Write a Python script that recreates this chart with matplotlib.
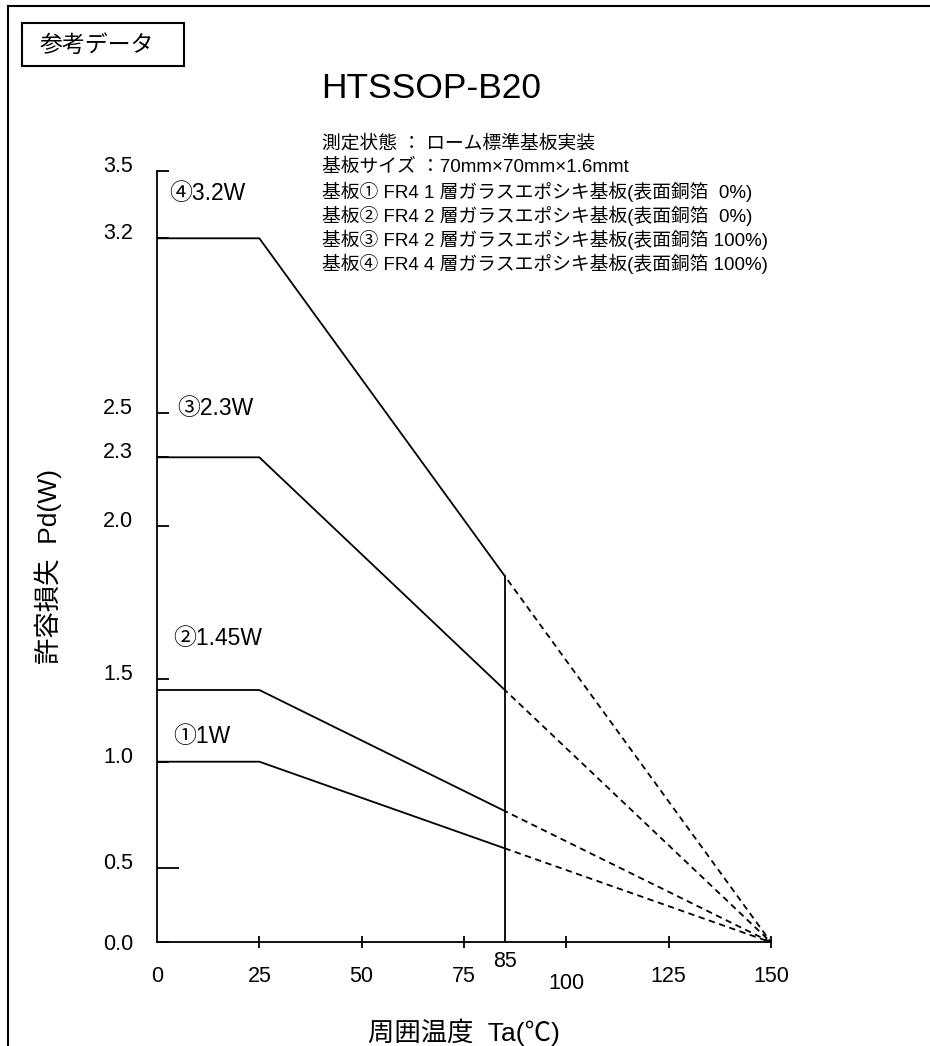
import numpy as np
import matplotlib
matplotlib.use("Agg")
import matplotlib.pyplot as plt
from matplotlib.patches import Rectangle
from matplotlib.transforms import ScaledTranslation

plt.rcParams['font.family'] = ['Liberation Sans', 'Noto Sans CJK JP', 'DejaVu Sans']

# データ (ディレーティング曲線)
BOARD_MARKS = ['①', '②', '③', '④']
PD_MAX = [1.0, 1.45, 2.3, 3.2]          # W
T_KNEE = 25                              # ℃
T_MAX = 150                              # ℃
T_A = 85                                 # ℃
X_TICKS = [0, 25, 50, 75, 100, 125, 150]
Y_TICKS = [0.0, 0.5, 1.0, 1.5, 2.0, 2.3, 2.5, 3.2, 3.5]
CONDITIONS = [
    '測定状態 ： ローム標準基板実装',
    '基板サイズ ：70mm×70mm×1.6mmt',
    '基板① FR4 1 層ガラスエポシキ基板(表面銅箔  0%)',
    '基板② FR4 2 層ガラスエポシキ基板(表面銅箔  0%)',
    '基板③ FR4 2 層ガラスエポシキ基板(表面銅箔 100%)',
    '基板④ FR4 4 層ガラスエポシキ基板(表面銅箔 100%)',
]

# 元の図の縦軸は等間隔ではないので、区分線形のスケールで再現する
SCALE_W = [-10, 0.0, 0.5, 1.0, 1.45, 1.5, 2.0, 2.3, 2.5, 3.2, 3.5, 10]
SCALE_PX = [-2200, 0.0, 74.3, 180.6, 252.3, 263.3, 416.6, 485.0, 529.0, 704.0, 771.6, 2201.6]


def fwd(v):
    return np.interp(v, SCALE_W, SCALE_PX)


def inv(p):
    return np.interp(p, SCALE_PX, SCALE_W)


W, H = 930, 1046
fig = plt.figure(figsize=(W / 100, H / 100), dpi=100)
ax = fig.add_axes([157 / W, 1 - 942.3 / H, 614 / W, 771.6 / H])
ax.set_yscale('function', functions=(fwd, inv))
ax.set_xlim(0, T_MAX)
ax.set_ylim(0, 3.5)

for s in ['top', 'right']:
    ax.spines[s].set_visible(False)
for s in ['left', 'bottom']:
    ax.spines[s].set_linewidth(1.3)

lw = 1.3
solid_clip = Rectangle((0, 0), T_A, 3.5, transform=ax.transData)
dash_clip = Rectangle((T_A, 0), T_MAX - T_A, 3.5, transform=ax.transData)

# ラベル位置 (px)
LABEL_DX = [16, 16, 20, 12]
LABEL_DY = [25, 51, 49, 45]

for mark, p, dx, dy in zip(BOARD_MARKS, PD_MAX, LABEL_DX, LABEL_DY):
    ln, = ax.plot([0, T_KNEE, T_MAX], [p, p, 0], color='black', lw=lw)
    ln.set_clip_path(solid_clip)
    ln, = ax.plot([T_KNEE, T_MAX], [p, 0], color='black', lw=lw,
                  linestyle=(0, (3.5, 2.5)))
    ln.set_clip_path(dash_clip)
    ax.annotate(f'{mark}{p:g}W', xy=(0, p), xytext=(dx * 0.72, dy * 0.72),
                textcoords='offset points', ha='left', va='center',
                fontsize=16.5)

# 85℃ の縦線 (最上位の曲線まで)
p1 = ax.transData.transform((T_KNEE, max(PD_MAX)))
p2 = ax.transData.transform((T_MAX, 0))
t = (T_A - T_KNEE) / (T_MAX - T_KNEE)
top = ax.transData.inverted().transform((p1[0] + t * (p2[0] - p1[0]),
                                         p1[1] + t * (p2[1] - p1[1])))[1]
ax.plot([T_A, T_A], [0, top], color='black', lw=lw)

# x 軸
ax.set_xticks(X_TICKS)
ax.set_xticks([T_A], minor=True)
ax.set_xticklabels([str(v) for v in X_TICKS])
ax.set_xticklabels([str(T_A)], minor=True)
ax.tick_params(axis='x', which='major', direction='inout', length=8,
               width=1.3, pad=13.3, labelsize=15.5)
ax.tick_params(axis='x', which='minor', length=0, pad=6.3, labelsize=15.5)
xt = ax.xaxis.get_major_ticks()
xt[0].tick1line.set_visible(False)
xt[4].label1.set_y(-7 / 771.6)

# y 軸
ax.set_yticks(Y_TICKS)
ax.set_yticklabels([f'{v:.1f}' for v in Y_TICKS])
ax.yaxis.set_minor_locator(matplotlib.ticker.NullLocator())
ax.tick_params(axis='y', direction='in', length=8.5, width=1.3,
               pad=17.3, labelsize=15.5)
yt = ax.yaxis.get_major_ticks()
yt[1].tick1line.set_markersize(16)
up = ScaledTranslation(0, 7 / 100, fig.dpi_scale_trans)
for tk in yt[1:]:
    tk.label1.set_transform(tk.label1.get_transform() + up)

ax.set_xlabel('周囲温度  Ta(℃)', fontsize=19, va='center')
ax.xaxis.set_label_coords(0.5, (942.3 - 1032) / 771.6)
ax.set_ylabel('許容損失  Pd(W)', fontsize=19, va='center')
ax.yaxis.set_label_coords((48 - 157) / 614, (942.3 - 567) / 771.6)

# タイトルと条件
fig.text(431 / W, 1 - 88 / H, 'HTSSOP-B20', fontsize=25.5,
         ha='center', va='center')
for i, line in enumerate(CONDITIONS):
    fig.text(322 / W, 1 - (143.5 + 24 * i) / H, line, fontsize=13.5,
             ha='left', va='center')

# 参考データの枠
fig.add_artist(Rectangle((22 / W, 1 - 66 / H), 162 / W, 43 / H,
                         transform=fig.transFigure, fill=False,
                         ec='black', lw=1.5))
fig.text(40 / W, 1 - 45 / H, '参考データ', fontsize=16.5,
         ha='left', va='center')

# 外枠 (上と左)
fig.add_artist(Rectangle((8 / W, -0.05), 1.2, 1.05 - 6 / H,
                         transform=fig.transFigure, fill=False,
                         ec='black', lw=1.5))

fig.savefig('out.png', dpi=100)
